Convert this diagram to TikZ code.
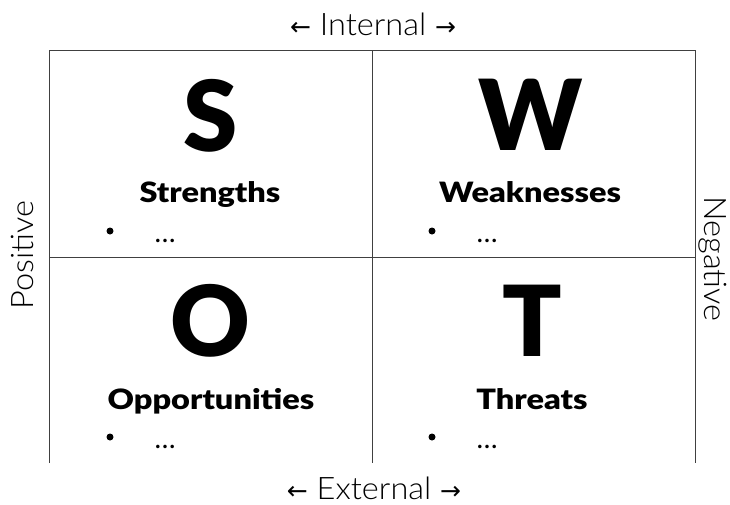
\documentclass[tikz,border=0pt]{standalone}
\usepackage{fontspec}
\setmainfont{Lato}
\newfontfamily\lightfont{Lato Light}[FakeStretch=1.05]
\newfontfamily\heavyfont{Lato Black}
\newfontfamily\headfont{Lato Black}[FakeStretch=1.16]
\newfontfamily\arrowfont{DejaVu Sans}
\usetikzlibrary{positioning}

% arrows set beside the axis labels
\newcommand{\arr}[1]{{\arrowfont\fontsize{25}{25}\selectfont#1}}

\begin{document}
\begin{tikzpicture}
        [x=1pt,y=-1pt,
         grid/.style={draw=black!75,line width=0.9pt},
         letter/.style={font=\heavyfont\fontsize{98}{98}\selectfont,inner sep=0pt,anchor=base},
         head/.style={font=\headfont\fontsize{28}{28}\selectfont,inner sep=0pt,anchor=base},
         side/.style={font=\lightfont\fontsize{31}{31}\selectfont,inner sep=0pt},
         bullet/.style={circle,fill,inner sep=0pt,minimum size=7pt},
         etc/.style={font=\fontsize{28}{28}\selectfont,inner sep=0pt,anchor=base}]
        \useasboundingbox (0,0) rectangle (730,504);
        % frame, open at the bottom
        \coordinate (nw) at (49,50);
        \coordinate (n) at (372,50);
        \coordinate (ne) at (695,50);
        \coordinate (w) at (49,257);
        \coordinate (e) at (695,257);
        \coordinate (sw) at (49,463);
        \coordinate (s) at (372,463);
        \coordinate (se) at (695,463);
        \draw[grid] (sw) -- (nw) -- (ne) -- (se)
                    (n) -- (s)
                    (w) -- (e);
        % axis labels
        \node[side,anchor=base](int) at (373,35){\arr{←} Internal \arr{→}};
        \node[side,anchor=base,text depth=0pt](ext) at (374,499){\arr{←} External \arr{→}};
        \node[side,rotate=90](pos) at (22,255){Positive};
        \node[side,rotate=-90](neg) at (713,259){Negative};
        % the four quadrants
        \node[letter](S) at (211,151){S};
        \node[letter](W) at (531,150){W};
        \node[letter](O) at (210,356){O};
        \node[letter](T) at (532,356){T};
        \node[head](str) at (210,202){Strengths};
        \node[head](wea) at (530,202){Weaknesses};
        \node[head](opp) at (211,409){Opportunities};
        \node[head](thr) at (532,409){Threats};
        \node[bullet](b1) at (110,231){};
        \node[bullet](b2) at (432,231){};
        \node[bullet](b3) at (110,437){};
        \node[bullet](b4) at (432,437){};
        \node[etc](e1) at (165,242){\ldots};
        \node[etc](e2) at (487,242){\ldots};
        \node[etc](e3) at (165,448){\ldots};
        \node[etc](e4) at (487,448){\ldots};
\end{tikzpicture}
\end{document}
